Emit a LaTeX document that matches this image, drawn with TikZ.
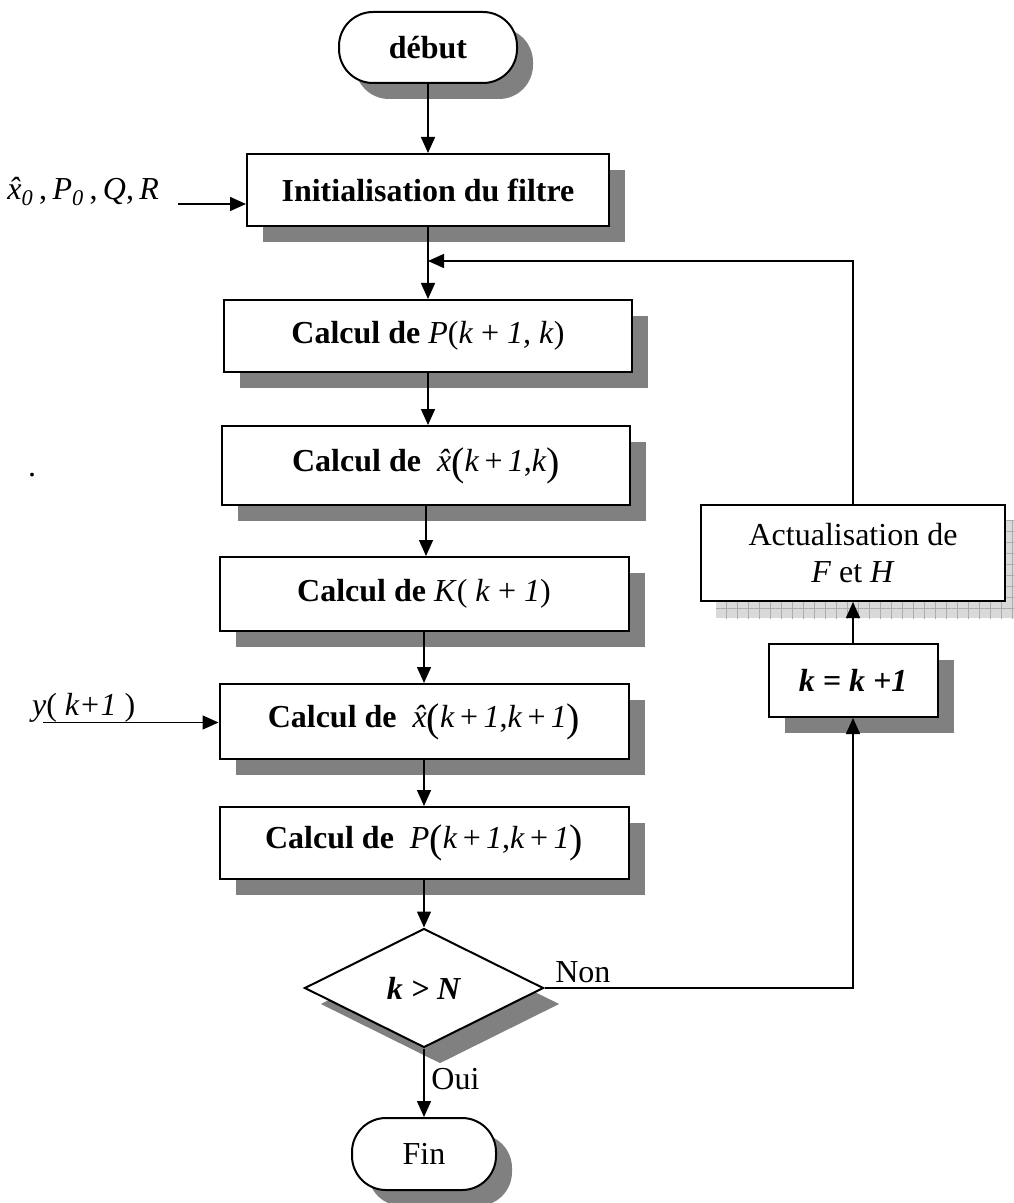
\documentclass[tikz,border=0pt]{standalone}
\usepackage{fontspec}
\setmainfont{Liberation Serif}
\usepackage{tikz}
\usetikzlibrary{arrows.meta, positioning, shapes.geometric, shadows, backgrounds, patterns.meta}

\newcommand{\xhat}{\ooalign{\textit{x}\cr\hidewidth\textit{\char"02C6}\hidewidth\cr}}
\newcommand{\parL}{\raisebox{-0.12em}{\fontsize{20}{20}\selectfont (}}
\newcommand{\parR}{\raisebox{-0.12em}{\fontsize{20}{20}\selectfont )}}

\begin{document}
\begin{tikzpicture}[
  x=0.5pt, y=-0.5pt,
  font=\fontsize{16}{18.5}\selectfont,
  shade/.style={drop shadow={shadow xshift=8pt, shadow yshift=-8pt, fill=gray, opacity=1}},
  box/.style={rectangle, draw, line width=1pt, fill=white, inner sep=0pt,
              text centered, shade},
  term/.style={box, rounded corners=17pt},
  cond/.style={diamond, draw, line width=1pt, fill=white, inner sep=0pt,
               aspect=2, minimum width=119.5pt, minimum height=59.5pt, shade},
  arrow/.style={-{Triangle[length=8pt, width=7pt]}, line width=0.75pt}
]
\useasboundingbox (0,0) rectangle (1013,1203);

% main column
\node[term, minimum width=89pt, minimum height=35.5pt] (debut) at (428,47.5) {\textbf{début}};
\node[box, minimum width=181pt, minimum height=36pt] (init) at (428,190)
  {\textbf{Initialisation du filtre}};
\node[box, minimum width=204pt, minimum height=36pt] (pred) at (428,336)
  {\textbf{Calcul de} \textit{P}(\textit{k} + \textit{1, k})};
\node[box, minimum width=204pt, minimum height=39.5pt] (xpred) at (426,465.5)
  {\textbf{Calcul de}\ \ \xhat\parL\textit{k}\,+\,\textit{1},\textit{k}\parR};
\node[box, minimum width=204.5pt, minimum height=37pt] (gain) at (424,594)
  {\textbf{Calcul de} \textit{K}( \textit{k} + \textit{1})};
\node[box, minimum width=204.5pt, minimum height=37.5pt] (xupd) at (424,721.5)
  {\textbf{Calcul de}\ \ \xhat\parL\textit{k}\,+\,\textit{1},\textit{k}\,+\,\textit{1}\parR};
\node[box, minimum width=204.5pt, minimum height=36pt] (pupd) at (424,843)
  {\textbf{Calcul de}\ \ \textit{P}\parL\textit{k}\,+\,\textit{1},\textit{k}\,+\,\textit{1}\parR};
\node[cond] (test) at (424,988) {\textbf{\textit{k > N}}};
\node[term, minimum width=72pt, minimum height=36pt] (fin) at (424,1154) {Fin};

% loop column
\node[box, minimum width=84.5pt, minimum height=36.5pt] (incr) at (853,680.5)
  {\textbf{\textit{k = k +1}}};
\node[rectangle, draw, line width=1pt, fill=white, inner sep=0pt, align=center,
      minimum width=152pt, minimum height=48pt] (act) at (853,553)
  {Actualisation de\\\textit{F} et \textit{H}};
\begin{scope}[on background layer]
\fill[gray!30] ([shift={(8pt,-8pt)}]act.south west) rectangle ([shift={(8pt,-8pt)}]act.north east);
\fill[pattern={Lines[angle=0, distance=5.5pt, line width=0.5pt]}, pattern color=gray!65]
  ([shift={(8pt,-8pt)}]act.south west) rectangle ([shift={(8pt,-8pt)}]act.north east);
\fill[pattern={Lines[angle=90, distance=5.5pt, line width=0.5pt]}, pattern color=gray!65]
  ([shift={(8pt,-8pt)}]act.south west) rectangle ([shift={(8pt,-8pt)}]act.north east);
\end{scope}

% inputs
\node[anchor=base east] (initlbl) at (166,200)
  {\xhat\textsubscript{\textit{0}}\,,\,\textit{P}\textsubscript{\textit{0}}\,,\,\textit{Q},\,\textit{R}};
\coordinate (initin) at (178,204);
\node[anchor=base west] (ylbl) at (25,715) {\textit{y}( \textit{k+1} )};
\coordinate (yin) at (43,722.5);
\node[anchor=base] (dot) at (32,476) {.};
\coordinate (merge) at (428,261);

% connectors
\draw[arrow] (debut) -- (init);
\draw[arrow] (initin) -- (initin -| init.west);
\draw[arrow] (init) -- (pred);
\draw[arrow] (act.north) |- (merge);
\draw[arrow] (pred.south) -- (pred.south |- xpred.north);
\draw[arrow] (xpred.south) -- (xpred.south |- gain.north);
\draw[arrow] (gain) -- (xupd);
\draw[arrow] (yin) -- (yin -| xupd.west);
\draw[arrow] (xupd) -- (pupd);
\draw[arrow] (pupd) -- (test);
\draw[arrow] (test) -- node[right, pos=0.45] {Oui} (fin);
\draw[arrow] (test.east) -| node[pos=0, above right, inner sep=2pt, xshift=3pt] {Non} (incr.south);
\draw[arrow] (incr) -- (act);

\end{tikzpicture}
\end{document}
